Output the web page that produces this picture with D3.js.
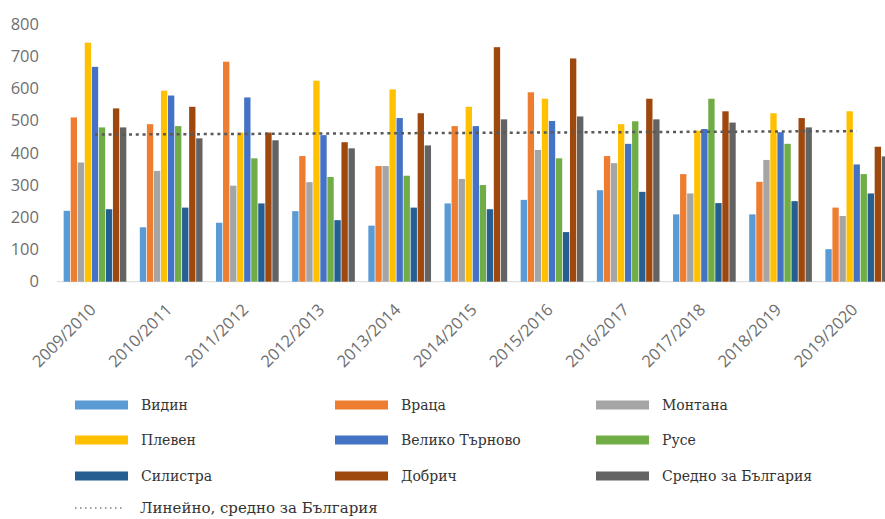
<!DOCTYPE html>
<html>
<head>
<meta charset="utf-8">
<script src="https://cdn.jsdelivr.net/npm/d3@7"></script>
<style>
  html, body { margin: 0; padding: 0; background: #fff; }
  svg { display: block; }
</style>
</head>
<body>
<svg id="chart" width="885" height="519"></svg>
<script>
// ---- Data ----
const categories = ["2009/2010","2010/2011","2011/2012","2012/2013","2013/2014","2014/2015","2015/2016","2016/2017","2017/2018","2018/2019","2019/2020"];
const seriesNames = ["Видин","Враца","Монтана","Плевен","Велико Търново","Русе","Силистра","Добрич","Средно за България"];
const vidin     = [220, 169, 183, 219, 174, 243, 254, 284, 209, 209, 101];
const vratsa    = [510, 489, 683, 390, 359, 483, 588, 390, 334, 310, 230];
const montana   = [370, 344, 298, 309, 359, 319, 409, 368, 274, 378, 204];
const pleven    = [742, 593, 463, 624, 597, 543, 568, 489, 469, 523, 529];
const vTarnovo  = [667, 578, 572, 455, 508, 483, 499, 428, 474, 464, 364];
const ruse      = [479, 483, 383, 325, 329, 300, 383, 498, 568, 428, 334];
const silistra  = [225, 230, 243, 191, 230, 225, 154, 279, 244, 250, 274];
const dobrich   = [538, 543, 463, 433, 523, 728, 693, 568, 529, 508, 419];
const average   = [479, 445, 439, 414, 423, 504, 513, 504, 494, 479, 389];
const yTicks    = [0, 100, 200, 300, 400, 500, 600, 700, 800];
const trendName = "Линейно, средно за България";
const colors    = ["#5B9BD5","#ED7D31","#A5A5A5","#FFC000","#4472C4","#70AD47","#255E91","#9E480E","#636363"];

const seriesValues = [vidin, vratsa, montana, pleven, vTarnovo, ruse, silistra, dobrich, average];

// ---- Scales ----
const svg = d3.select("#chart");
const x0 = d3.scaleBand().domain(categories).range([56.9, 894.8]).paddingInner(0.168).paddingOuter(0.084);
const x1 = d3.scaleBand().domain(seriesNames).range([0, x0.bandwidth()]);
const y = d3.scaleLinear().domain([0, 800]).range([281.7, 24]);

svg.append("defs").append("clipPath").attr("id", "clip")
  .append("rect").attr("x", 0).attr("y", 0).attr("width", 885).attr("height", 519);

const plot = svg.append("g").attr("clip-path", "url(#clip)");

// ---- Axis baseline ----
plot.append("line")
  .attr("x1", x0.range()[0]).attr("x2", 885)
  .attr("y1", y(0)).attr("y2", y(0))
  .attr("stroke", "#d9d9d9").attr("stroke-width", 1);

// ---- Y labels ----
const yAxis = d3.axisLeft(y).tickValues(yTicks).tickSize(0).tickPadding(0);
const yg = svg.append("g").attr("transform", "translate(39,0)").call(yAxis);
yg.select(".domain").remove();
yg.selectAll("text")
  .attr("font-family", "'Open Sans', sans-serif")
  .attr("font-size", 16.5)
  .attr("fill", "#6f6f6f");

// ---- Bars ----
const groups = plot.selectAll("g.cat")
  .data(categories)
  .join("g")
  .attr("class", "cat")
  .attr("transform", d => `translate(${x0(d)},0)`);

groups.selectAll("rect")
  .data((c, ci) => seriesNames.map((s, si) => ({ s, si, v: seriesValues[si][ci] })))
  .join("rect")
  .attr("x", d => x1(d.s) + 0.35)
  .attr("width", x1.bandwidth() - 0.7)
  .attr("y", d => y(d.v))
  .attr("height", d => y(0) - y(d.v))
  .attr("fill", d => colors[d.si]);

// ---- Linear trend (least squares on the average series) ----
const n = average.length;
const xs = d3.range(n);
const mx = d3.mean(xs), my = d3.mean(average);
const slope = d3.sum(xs, i => (i - mx) * (average[i] - my)) / d3.sum(xs, i => (i - mx) ** 2);
const intercept = my - slope * mx;
const trend = xs.map(i => ({ c: categories[i], v: intercept + slope * i }));
plot.append("path")
  .datum(trend)
  .attr("d", d3.line().x(d => x0(d.c) + x0.bandwidth() / 2).y(d => y(d.v)))
  .attr("fill", "none")
  .attr("stroke", "#595959")
  .attr("stroke-width", 2.5)
  .attr("stroke-dasharray", "3,3.8");

// ---- X labels ----
const xg = svg.append("g");
xg.selectAll("text")
  .data(categories)
  .join("text")
  .attr("transform", d => `translate(${x0(d) + x0.bandwidth() / 2 + 2},${y(0) + 29}) rotate(-45)`)
  .attr("text-anchor", "end")
  .attr("font-family", "'Open Sans', sans-serif")
  .attr("font-size", 16.5)
  .attr("fill", "#6f6f6f")
  .text(d => d);

// ---- Legend ----
const legendCols = [75, 335, 596];
const legendRows = [405, 440, 476];
const legend = svg.append("g");
seriesNames.forEach((s, i) => {
  const col = i % 3, row = Math.floor(i / 3);
  const lx = legendCols[col], ly = legendRows[row];
  legend.append("rect")
    .attr("x", lx).attr("y", ly - 4.5)
    .attr("width", 53).attr("height", 9)
    .attr("fill", colors[i]);
  legend.append("text")
    .attr("x", lx + 66).attr("y", ly + 5)
    .attr("font-family", "'DejaVu Serif', serif")
    .attr("font-size", 14)
    .attr("fill", "#333")
    .text(s);
});
legend.append("line")
  .attr("x1", 75).attr("x2", 122).attr("y1", 508).attr("y2", 508)
  .attr("stroke", "#7f7f7f").attr("stroke-width", 1.5)
  .attr("stroke-dasharray", "1.5,3.5");
legend.append("text")
  .attr("x", 140).attr("y", 513)
  .attr("font-family", "'DejaVu Serif', serif")
  .attr("font-size", 15)
  .attr("fill", "#333")
  .text(trendName);
</script>
</body>
</html>
